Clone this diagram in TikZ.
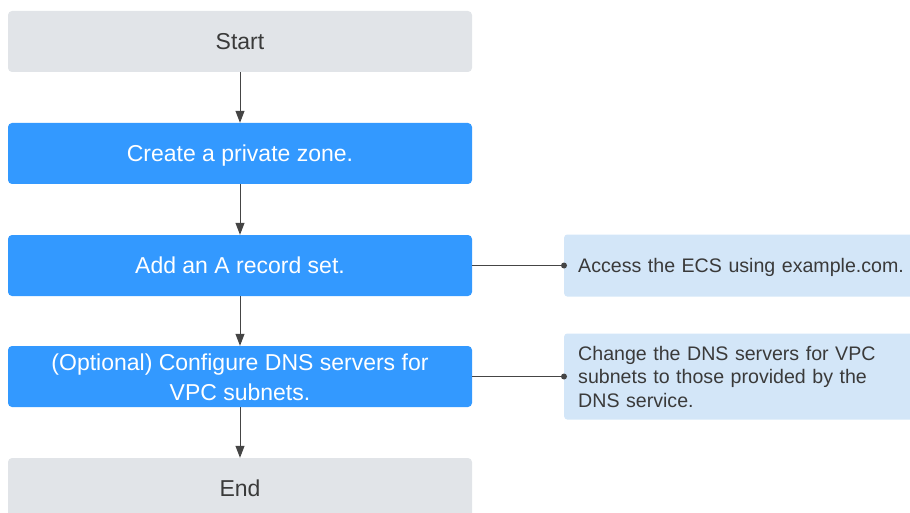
\documentclass[tikz,border=0pt]{standalone}
\usepackage{fontspec}
\setmainfont{Liberation Sans}
\usetikzlibrary{arrows.meta}
\definecolor{grayfill}{HTML}{E1E4E8}
\definecolor{bluefill}{HTML}{3399FF}
\definecolor{lightfill}{HTML}{D3E6F8}
\definecolor{txt}{HTML}{3A3A3A}
\definecolor{linec}{HTML}{454545}
\begin{document}
\begin{tikzpicture}[x=1pt,y=-1pt,
  box/.style={rounded corners=4pt, minimum width=464pt, minimum height=61pt,
    inner sep=0pt, font=\fontsize{23}{30}\selectfont, align=center},
  oneline/.style={text height=16.5pt, text depth=0pt},
  greybox/.style={box, fill=grayfill, text=txt},
  bluebox/.style={box, fill=bluefill, text=white},
  note/.style={rounded corners=3pt, fill=lightfill, text=txt, anchor=west,
    inner xsep=14pt, inner ysep=0pt, text width=330pt, align=left,
    font=\fontsize{19.6}{23.5}\selectfont},
  arr/.style={draw=linec, line width=1pt, -{Triangle[length=12pt,width=9pt]}},
  link/.style={draw=linec, line width=1pt},
  dotc/.style={fill=linec}
]
\useasboundingbox (0,0) rectangle (910,513);
\clip (0,0) rectangle (910,513);

\node[greybox, oneline] (start) at (240,41.5) {Start};
\node[bluebox, oneline] (create) at (240,153.5) {Create a private zone.};
\node[bluebox, oneline] (add) at (240,265.5) {Add an A record set.};
\node[bluebox] (opt) at (240,376.5) {\rule{0pt}{19pt}(Optional) Configure DNS servers for\\VPC subnets.};
\node[greybox, oneline] (end) at (240,488.5) {End};

\node[note, minimum height=62pt, text height=14pt, text depth=0pt] (n1) at (564,265.5) {Access the ECS using example.com.};
\node[note, minimum height=86pt] (n2) at (564,376.5) {Change the DNS servers for VPC\\subnets to those provided by the\\DNS service.};

\draw[arr] (start) -- (create);
\draw[arr] (create) -- (add);
\draw[arr] (add) -- (opt);
\draw[arr] (opt) -- (end);

\draw[link] (add.east) -- (n1.west);
\draw[link] (opt.east) -- (n2.west);
\fill[dotc] (n1.west) circle (3pt);
\fill[dotc] (n2.west) circle (3pt);
\end{tikzpicture}
\end{document}
